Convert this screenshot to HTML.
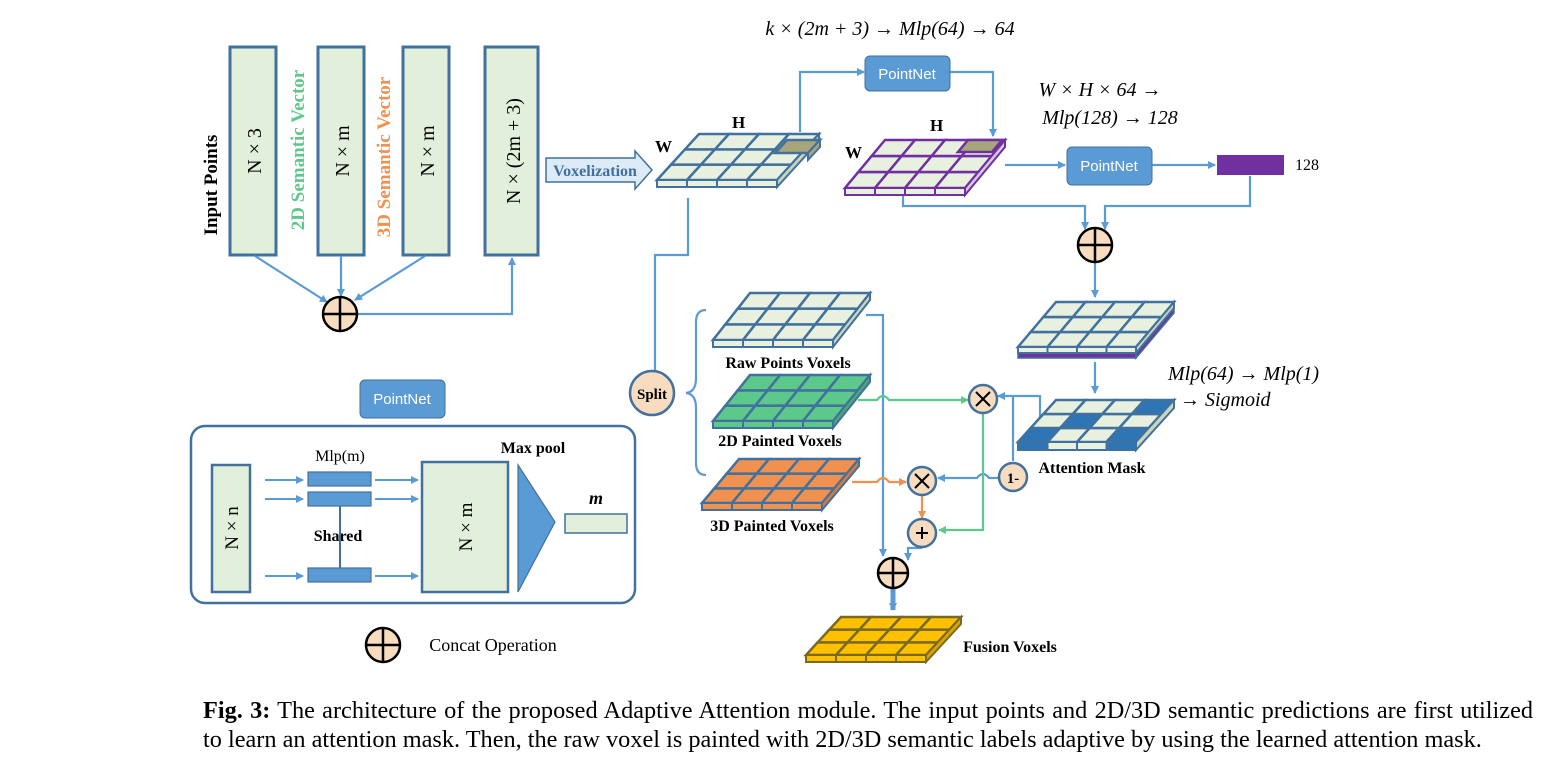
<!DOCTYPE html>
<html><head><meta charset="utf-8"><style>
body{margin:0;background:#fff;width:1568px;height:763px;overflow:hidden}
svg{display:block}
.t{font-family:"Liberation Serif",serif}
.cap{position:absolute;left:203px;width:1330px;font-family:"Liberation Serif",serif;font-size:24.3px;line-height:29px;text-align:justify;text-align-last:justify;white-space:nowrap}
</style></head><body>
<svg id="s" width="1568" height="763" viewBox="0 0 1568 763" xmlns="http://www.w3.org/2000/svg">
<defs>
<marker id="a" markerWidth="8" markerHeight="8" refX="7" refY="4" orient="auto" markerUnits="userSpaceOnUse"><path d="M0,0 L8,4 L0,8 z" fill="#5b9bd5"/></marker>
<marker id="ag" markerWidth="8" markerHeight="8" refX="7" refY="4" orient="auto" markerUnits="userSpaceOnUse"><path d="M0,0 L8,4 L0,8 z" fill="#5cc98a"/></marker>
<marker id="ao" markerWidth="8" markerHeight="8" refX="7" refY="4" orient="auto" markerUnits="userSpaceOnUse"><path d="M0,0 L8,4 L0,8 z" fill="#f0914f"/></marker>
</defs>
<g fill="#e2efda" stroke="#41719c" stroke-width="3">
<rect x="230" y="47" width="46" height="208"/><rect x="318" y="47" width="46" height="208"/>
<rect x="403" y="47" width="46" height="208"/><rect x="485" y="47" width="53" height="208"/>
</g>
<g class="t" font-size="20" text-anchor="middle">
<text transform="translate(261,151) rotate(-90)">N × 3</text>
<text transform="translate(349,151) rotate(-90)">N × m</text>
<text transform="translate(434,151) rotate(-90)">N × m</text>
<text transform="translate(520,151) rotate(-90)">N × (2m + 3)</text>
<text transform="translate(217,185) rotate(-90)" font-weight="bold" font-size="19">Input Points</text>
<text transform="translate(304,150) rotate(-90)" font-weight="bold" font-size="19" fill="#5cc98a">2D Semantic Vector</text>
<text transform="translate(390,157) rotate(-90)" font-weight="bold" font-size="19" fill="#f0914f">3D Semantic Vector</text>
</g>
<g fill="none" stroke="#5b9bd5" stroke-width="2.2">
<path d="M255,256 L327,302" marker-end="url(#a)"/>
<path d="M341,256 L341,296" marker-end="url(#a)"/>
<path d="M425,256 L355,300" marker-end="url(#a)"/>
<path d="M357,314 L512,314 L512,258" marker-end="url(#a)"/>
<path d="M688,198 L688,255 L655,255 L655,371"/>
<path d="M800,132 L800,72 L864,72" marker-end="url(#a)"/>
<path d="M950,72 L993,72 L993,136" marker-end="url(#a)"/>
<path d="M1005,165 L1065,165" marker-end="url(#a)"/>
<path d="M1152,165 L1215,165" marker-end="url(#a)"/>
<path d="M903,192 L903,206 L1085,206 L1085,229" marker-end="url(#a)"/>
<path d="M1250,176 L1250,206 L1105,206 L1105,229" marker-end="url(#a)"/>
<path d="M1095,262 L1095,297" marker-end="url(#a)"/>
<path d="M1095,362 L1095,393" marker-end="url(#a)"/>
<path d="M706,310 Q696,310 696,322 L696,378 Q696,392 686,393 Q696,394 696,408 L696,463 Q696,475 706,475"/>
<path d="M866,315 L883,315 L883,556" marker-end="url(#a)"/>
<path d="M1040,425 L1040,396 L998,396" marker-end="url(#a)"/>
<path d="M1013,461 L1013,396"/>
<path d="M999,478 L989,478 Q983,470 977,478 L938,478" marker-end="url(#a)"/>
<path d="M922,548 L908,548 L908,560" marker-end="url(#a)"/>
</g>
<path d="M893,589 L893,610" stroke="#5b9bd5" stroke-width="5" marker-end="url(#a)"/>
<g fill="none" stroke="#5cc98a" stroke-width="2.2">
<path d="M858,400 L877,400 Q883,392 889,400 L968,400" marker-end="url(#ag)"/>
<path d="M983,413 L983,530 L939,530" marker-end="url(#ag)"/>
</g>
<g fill="none" stroke="#f0914f" stroke-width="2.2">
<path d="M852,482 L877,482 Q883,474 889,482 L906,482" marker-end="url(#ao)"/>
<path d="M922,495 L922,518" marker-end="url(#ao)"/>
</g>
<path d="M546,158 L635,158 L635,151 L652,170 L635,189 L635,182 L546,182 z" fill="#ddebf7" stroke="#41719c" stroke-width="1.5"/>
<text x="595" y="176" class="t" font-size="16" font-weight="bold" fill="#41719c" text-anchor="middle">Voxelization</text>
<g fill="#5b9bd5" stroke="#41719c" stroke-width="1">
<rect x="865" y="56" width="85" height="35" rx="5"/><rect x="1067" y="147" width="85" height="38" rx="5"/><rect x="360" y="380" width="85" height="38" rx="5"/>
</g>
<g font-family="Liberation Sans,sans-serif" font-size="15" fill="#fff" text-anchor="middle">
<text x="907" y="79">PointNet</text><text x="1109" y="171">PointNet</text><text x="402" y="404">PointNet</text>
</g>
<rect x="1217" y="155" width="67" height="20" fill="#7030a0"/>
<text x="1295" y="170" class="t" font-size="16">128</text>
<g id="grids"></g>
<g class="t" font-weight="bold" font-size="17">
<text x="732" y="128">H</text><text x="655" y="152">W</text>
<text x="930" y="131">H</text><text x="845" y="158">W</text>
</g>
<g class="t" font-size="16" font-weight="bold" text-anchor="middle">
<text x="788" y="368">Raw Points Voxels</text>
<text x="780" y="446">2D Painted Voxels</text>
<text x="772" y="531">3D Painted Voxels</text>
<text x="1092" y="473">Attention Mask</text>
<text x="1010" y="652">Fusion Voxels</text>
<text x="533" y="453">Max pool</text>
<text x="340" y="461" font-weight="normal">Mlp(m)</text>
<text x="338" y="541">Shared</text>
<text x="493" y="651" font-size="18" font-weight="normal">Concat Operation</text>
</g>
<g class="t" font-size="20" font-style="italic">
<text x="890" y="35" text-anchor="middle">k × (2m + 3) → Mlp(64) → 64</text>
<text x="1100" y="96" text-anchor="middle">W × H × 64 →</text>
<text x="1110" y="124" text-anchor="middle">Mlp(128) → 128</text>
<text x="1168" y="380">Mlp(64) → Mlp(1)</text>
<text x="1180" y="406">→ Sigmoid</text>
</g>
<g stroke="#41719c" stroke-width="2.5" fill="#f8dcc0">
<circle cx="652" cy="393" r="22"/>
<circle cx="983" cy="399" r="14"/><circle cx="922" cy="481" r="14"/><circle cx="922" cy="533" r="14"/><circle cx="1013" cy="477" r="14"/>
</g>
<g stroke="#000" stroke-width="2.5" fill="#f8dcc0">
<circle cx="340" cy="314" r="17"/><circle cx="1095" cy="245" r="17"/><circle cx="893" cy="573" r="15"/><circle cx="383" cy="645" r="17"/>
</g>
<g stroke="#000" stroke-width="2.5">
<path d="M323,314h34M340,297v34M1078,245h34M1095,228v34M878,573h30M893,558v30M366,645h34M383,628v34"/>
<path d="M916,533h12M922,527v12M976,392l14,14M990,392l-14,14M915,474l14,14M929,474l-14,14" stroke-width="2"/>
</g>
<text x="652" y="399" class="t" font-size="15" font-weight="bold" text-anchor="middle">Split</text>
<text x="1013" y="483" class="t" font-size="15" font-weight="bold" text-anchor="middle">1-</text>
<rect x="191" y="426" width="444" height="177" rx="14" fill="none" stroke="#41719c" stroke-width="2.5"/>
<g fill="#e2efda" stroke="#41719c" stroke-width="2.5">
<rect x="212" y="465" width="38" height="127"/><rect x="422" y="462" width="86" height="130"/><rect x="565" y="514" width="62" height="19" stroke-width="1.5"/>
</g>
<g fill="#5b9bd5" stroke="#41719c" stroke-width="1.2">
<rect x="308" y="472" width="63" height="14"/><rect x="308" y="492" width="63" height="14"/><rect x="308" y="568" width="63" height="14"/>
<path d="M518,465 L555,522 L518,592 z"/>
</g>
<path d="M340,506V568" stroke="#41719c" stroke-width="2"/>
<g stroke="#5b9bd5" stroke-width="2" marker-end="url(#a)">
<path d="M265,480H303"/><path d="M265,499H303"/><path d="M265,576H303"/><path d="M375,480H418"/><path d="M375,499H418"/><path d="M375,576H418"/>
</g>
<text transform="translate(238,528) rotate(-90)" class="t" font-size="19" text-anchor="middle">N × n</text>
<text transform="translate(472,527) rotate(-90)" class="t" font-size="19" text-anchor="middle">N × m</text>
<text x="596" y="504" class="t" font-size="18" font-weight="bold" font-style="italic" text-anchor="middle">m</text>
</svg>
<div class="cap" style="top:696px"><b>Fig. 3:</b> The architecture of the proposed Adaptive Attention module. The input points and 2D/3D semantic predictions are first utilized</div>
<div class="cap" style="top:725px;text-align-last:left">to learn an attention mask. Then, the raw voxel is painted with 2D/3D semantic labels adaptive by using the learned attention mask.</div>
<script>
var NS="http://www.w3.org/2000/svg",G=document.getElementById("grids");
function el(t,a){var e=document.createElementNS(NS,t);for(var k in a)e.setAttribute(k,a[k]);G.appendChild(e);return e}
function grid(x0,y0,w,dx,dy,t,st,fills,front,side,under){
 function P(u,v){return [x0+u*w+v*dx,y0-v*dy]}
 if(under){el("rect",{x:x0,y:y0+t,width:w,height:5,fill:under,stroke:st,"stroke-width":1.5});
  el("polygon",{points:[x0+w,y0+t,x0+w+dx,y0+t-dy,x0+w+dx,y0+t-dy+5,x0+w,y0+t+5].join(","),fill:under,stroke:st,"stroke-width":1.5});}
 for(var r=0;r<3;r++)for(var c=0;c<4;c++){
  var a=P(c/4,r/3),b=P((c+1)/4,r/3),d=P((c+1)/4,(r+1)/3),e=P(c/4,(r+1)/3);
  el("polygon",{points:[a,b,d,e].join(" "),fill:fills[r*4+c]||fills[0],stroke:st,"stroke-width":2.5});
 }
 for(var c=0;c<4;c++)el("rect",{x:x0+c*w/4,y:y0,width:w/4,height:t,fill:front[c]||front[0],stroke:st,"stroke-width":2});
 el("polygon",{points:[x0+w,y0,x0+w+dx,y0-dy,x0+w+dx,y0-dy+t,x0+w,y0+t].join(","),fill:side,stroke:st,"stroke-width":2});
}
var L="#e8f1e0",B="#2e75b6";
grid(657,180,120,42,46,7,"#41719c",[L],[L],"#c8d6c0");
el("polygon",{points:"787,140 820,140 808,153 775,153",fill:"#a9a57a",stroke:"#41719c","stroke-width":2.5});
el("polygon",{points:"808,153 820,140 820,147 808,160",fill:"#a9a57a",stroke:"#41719c","stroke-width":2});
grid(845,188,120,40,48,7,"#7030a0",[L],[L],"#d8c8e0");
el("polygon",{points:"968,140 1002,140 992,152 958,152",fill:"#a9a57a",stroke:"#7030a0","stroke-width":2.5});
grid(713,340,120,37,47,7,"#41719c",[L],[L],"#c8d6c0");
grid(713,421,120,37,46,7,"#41719c",["#5cc98a"],["#5cc98a"],"#4aa874");
grid(702,503,120,37,44,7,"#41719c",["#f0914f"],["#f0914f"],"#d97a3a");
grid(1018,347,118,38,45,6,"#41719c",[L],[L],"#c8d6c0","#7030a0");
grid(1018,442,118,38,42,8,"#41719c",[B,L,L,B,L,B,L,L,L,L,L,B],[B,L,L,B],"#c8d6c0");
grid(806,655,120,35,38,7,"#7a6a20",["#ffc000"],["#ffc000"],"#d9a400");
</script>
</body></html>
